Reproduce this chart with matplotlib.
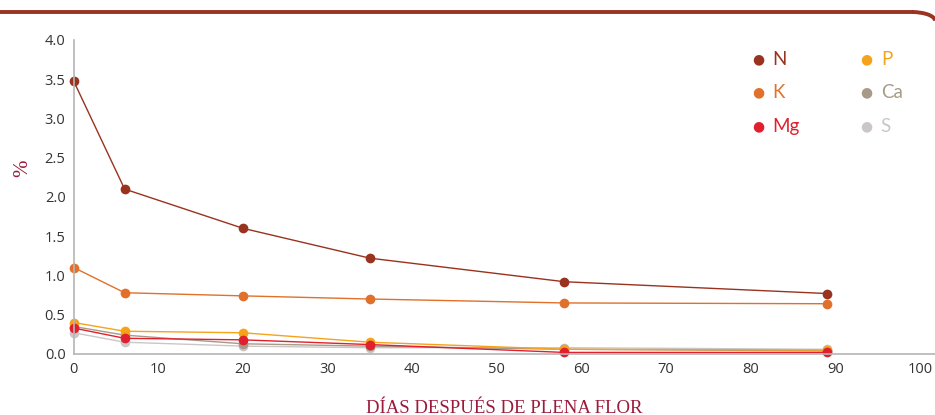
import matplotlib.pyplot as plt
from matplotlib.patches import Arc

# Days after full bloom
dias = [0, 6, 20, 35, 58, 89]

N = [3.47, 2.10, 1.60, 1.22, 0.92, 0.77]
K = [1.10, 0.78, 0.74, 0.70, 0.65, 0.64]
P = [0.40, 0.29, 0.27, 0.15, 0.06, 0.05]
Mg = [0.33, 0.20, 0.18, 0.12, 0.02, 0.02]
Ca = [0.35, 0.24, 0.13, 0.10, 0.06, 0.04]
S = [0.27, 0.15, 0.10, 0.08, 0.08, 0.06]

nombres = ["N", "K", "Mg", "P", "Ca", "S"]
colores = ["#99321f", "#e0702a", "#e0202e", "#f5a31b", "#a89a88", "#cbc7c7"]

fig = plt.figure(figsize=(9.35, 4.15), dpi=100)
ax = fig.add_axes([0.079, 0.147, 0.921, 0.757])

# draw lightest series first so the strong ones sit on top
series = [S, Ca, P, Mg, K, N]
cols = [colores[5], colores[4], colores[3], colores[2], colores[1], colores[0]]
for vals, c in zip(series, cols):
    ax.plot(dias, vals, color=c, lw=1.0, marker="o", markersize=7,
            markeredgewidth=0, clip_on=False)

ax.set_xlim(0, 101.8)
ax.set_ylim(0, 4.0)
ax.set_xticks(range(0, 101, 10))
ax.set_yticks([0, 0.5, 1.0, 1.5, 2.0, 2.5, 3.0, 3.5, 4.0])
ax.set_yticklabels(["0.0", "0.5", "1.0", "1.5", "2.0", "2.5", "3.0", "3.5", "4.0"])
ax.tick_params(length=0, labelsize=10.5, labelcolor="#333333", pad=6)
for lab in ax.get_xticklabels() + ax.get_yticklabels():
    lab.set_family("Open Sans")
ax.spines["top"].set_visible(False)
ax.spines["right"].set_visible(False)
ax.spines["left"].set_color("#b5b5b5")
ax.spines["bottom"].set_color("#b5b5b5")
ax.spines["left"].set_linewidth(1.2)
ax.spines["bottom"].set_linewidth(1.2)

ax.set_xlabel("DÍAS DESPUÉS DE PLENA FLOR", family="Liberation Serif",
              fontsize=13.5, color="#9b1b3b", labelpad=16)
fig.text(0.024, 0.595, "%", rotation=90, family="Liberation Serif",
         fontsize=15, color="#9b1b3b", ha="center", va="center")

# legend built by hand, two columns
pos = [(0.811, 0.857), (0.811, 0.777), (0.811, 0.696),
       (0.927, 0.857), (0.927, 0.777), (0.927, 0.696)]
for (x, y), n, c in zip(pos, nombres, colores):
    fig.text(x, y, "\u25cf", color=c, fontsize=10, ha="center", va="center")
    fig.text(x + 0.015, y, n, color=c, fontsize=13.5, family="Lato",
             ha="left", va="center")

# decorative top rule with rounded corner
fig.add_artist(plt.Line2D([0, 0.975], [0.971, 0.971], color="#9b3322",
                          lw=2.8, transform=fig.transFigure))
arc = Arc((0.975, 0.95), 0.05, 0.042, theta1=0, theta2=90,
          color="#9b3322", lw=2.8, transform=fig.transFigure)
fig.add_artist(arc)

fig.savefig("out.png", dpi=100)
